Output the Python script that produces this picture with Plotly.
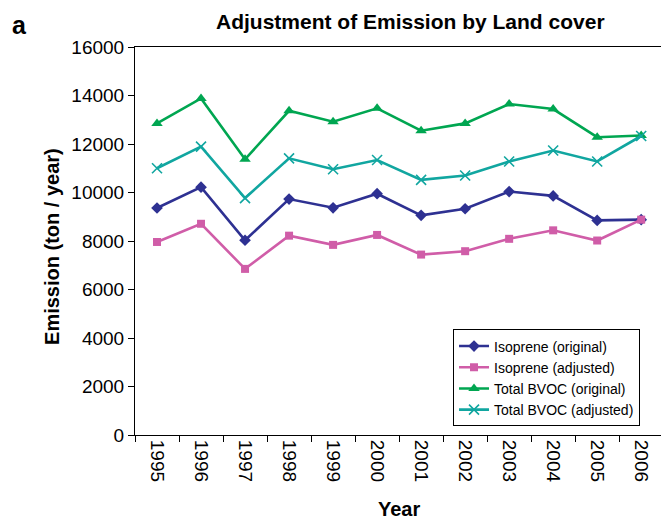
import plotly.graph_objects as go

# Annual emissions, 1995-2006 (ton / year)
years = ["1995", "1996", "1997", "1998", "1999", "2000",
         "2001", "2002", "2003", "2004", "2005", "2006"]
isoprene_original = [9360, 10220, 8030, 9730, 9370, 9950,
                     9060, 9330, 10040, 9860, 8850, 8880]
isoprene_adjusted = [7960, 8710, 6850, 8220, 7840, 8250,
                     7440, 7580, 8090, 8440, 8020, 8880]
bvoc_original = [12850, 13880, 11370, 13370, 12920, 13470,
                 12550, 12850, 13650, 13440, 12280, 12350]
bvoc_adjusted = [11000, 11890, 9770, 11410, 10960, 11340,
                 10520, 10700, 11280, 11730, 11280, 12330]

y_ticks = [0, 2000, 4000, 6000, 8000, 10000, 12000, 14000, 16000]

FONT = "Arial, Liberation Sans, sans-serif"

series = [
    ("Isoprene (original)", isoprene_original, "#2E3192",
     dict(symbol="diamond", size=9)),
    ("Isoprene (adjusted)", isoprene_adjusted, "#D05DA8",
     dict(symbol="square", size=8)),
    ("Total BVOC (original)", bvoc_original, "#00A651",
     dict(symbol="triangle-up", size=10)),
    ("Total BVOC (adjusted)", bvoc_adjusted, "#11A6A0",
     dict(symbol="x-thin-open", size=10, line=dict(width=1.6))),
]

fig = go.Figure()
for i, (name, vals, color, marker) in enumerate(series):
    m = dict(marker)
    m["color"] = color
    if "line" in m:
        m["line"]["color"] = color
    fig.add_trace(go.Scatter(
        x=years, y=vals, name=name, mode="lines+markers",
        line=dict(color=color, width=2.6),
        marker=m, legendgroup=f"g{i}",
    ))

fig.update_layout(
    width=661, height=520,
    margin=dict(l=135, r=0, t=47, b=85),
    paper_bgcolor="white", plot_bgcolor="white",
    font=dict(family=FONT, color="black"),
    showlegend=True,
    legend=dict(
        x=0.6046, y=0.272, xanchor="left", yanchor="top",
        bgcolor="white", bordercolor="black", borderwidth=1,
        font=dict(size=14, family=FONT, color="black"),
        traceorder="grouped", tracegroupgap=0,
        itemwidth=30,
    ),
    xaxis=dict(
        type="category", range=[-0.5, 11.45],
        tickson="boundaries", ticks="outside", ticklen=6,
        tickcolor="black", tickwidth=1,
        tickangle=90, tickfont=dict(size=19, family=FONT),
        showline=True, linecolor="black", linewidth=1, mirror=True,
        showgrid=False, zeroline=False,
    ),
    yaxis=dict(
        range=[0, 16000], tickvals=y_ticks,
        ticktext=[str(v) for v in y_ticks],
        ticks="outside", ticklen=6, tickcolor="black", tickwidth=1,
        tickfont=dict(size=19, family=FONT),
        showline=True, linecolor="black", linewidth=1,
        showgrid=False, zeroline=False,
    ),
    annotations=[
        dict(text="<b>Adjustment of Emission by Land cover</b>",
             xref="paper", yref="paper", x=0.523, y=1.066,
             xanchor="center", yanchor="middle", showarrow=False,
             font=dict(size=21, family=FONT)),
        dict(text="<b>a</b>", xref="paper", yref="paper",
             x=-0.219, y=1.057, xanchor="center", yanchor="middle",
             showarrow=False, font=dict(size=25, family=FONT)),
        dict(text="<b>Emission (ton / year)</b>", xref="paper", yref="paper",
             x=-0.158, y=0.487, xanchor="center", yanchor="middle",
             textangle=-90, showarrow=False, font=dict(size=20, family=FONT)),
        dict(text="<b>Year</b>", xref="paper", yref="paper",
             x=0.502, y=-0.19, xanchor="center", yanchor="middle",
             showarrow=False, font=dict(size=20, family=FONT)),
    ],
)

fig.write_html("out.html")
